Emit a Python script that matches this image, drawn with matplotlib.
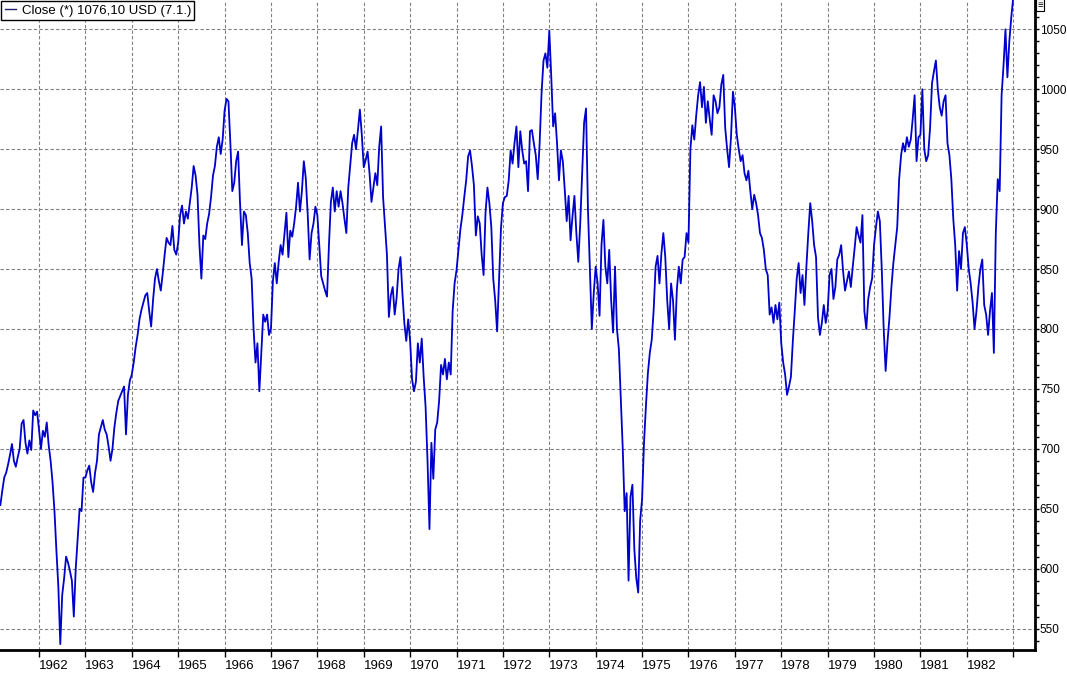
import matplotlib

matplotlib.use("Agg")
import matplotlib.pyplot as plt
import matplotlib.lines as mlines
from matplotlib.ticker import MultipleLocator

plt.rcParams["font.family"] = ["Liberation Sans", "DejaVu Sans"]

# semi-monthly closes (1961 starts in March)
CLOSE_1961 = [653, 665, 676, 680, 687, 695, 704, 690, 685, 693, 700, 721,
              724, 705, 696, 707, 699, 732, 728, 731]
CLOSE_1962 = [716, 700, 715, 710, 722, 703, 690, 672, 648, 615, 585, 537,
              578, 592, 610, 605, 598, 590, 560, 600, 625, 650, 648, 676]
CLOSE_1963 = [676, 682, 686, 672, 664, 680, 690, 712, 718, 724, 716, 712,
              702, 690, 700, 718, 730, 740, 744, 748, 752, 712, 745, 757]
CLOSE_1964 = [762, 772, 785, 795, 808, 816, 822, 828, 830, 815, 802, 824,
              842, 850, 840, 832, 846, 862, 876, 872, 870, 886, 866, 862]
CLOSE_1965 = [872, 895, 903, 888, 898, 892, 905, 918, 936, 928, 912, 870,
              842, 878, 875, 888, 896, 910, 928, 936, 952, 960, 946, 958]
CLOSE_1966 = [982, 992, 990, 955, 915, 922, 940, 948, 905, 870, 898, 895,
              880, 855, 842, 800, 772, 788, 748, 780, 812, 806, 812, 795]
CLOSE_1967 = [800, 840, 855, 838, 856, 870, 862, 880, 897, 860, 882, 877,
              888, 902, 922, 898, 915, 940, 926, 896, 858, 880, 888, 902]
CLOSE_1968 = [895, 870, 844, 838, 832, 827, 870, 906, 918, 898, 915, 902,
              915, 905, 892, 880, 918, 936, 955, 962, 950, 966, 983, 962]
CLOSE_1969 = [935, 941, 948, 930, 906, 918, 930, 920, 952, 969, 910, 886,
              862, 810, 828, 835, 812, 826, 850, 860, 830, 805, 790, 808]
CLOSE_1970 = [790, 758, 748, 756, 788, 772, 792, 760, 735, 690, 633, 705,
              675, 716, 722, 740, 770, 762, 775, 758, 772, 762, 815, 838]
CLOSE_1971 = [849, 866, 883, 895, 910, 924, 944, 949, 936, 920, 878, 894,
              888, 862, 845, 897, 918, 905, 885, 842, 824, 798, 842, 884]
CLOSE_1972 = [905, 910, 911, 924, 949, 938, 955, 969, 935, 965, 949, 938,
              940, 915, 965, 966, 955, 945, 925, 955, 997, 1024, 1030, 1018]
CLOSE_1973 = [1049, 1011, 969, 980, 955, 924, 949, 940, 916, 890, 911, 874,
              894, 911, 880, 856, 888, 930, 972, 984, 900, 850, 800, 830]
CLOSE_1974 = [852, 838, 811, 870, 891, 852, 838, 866, 824, 797, 852, 800,
              783, 742, 700, 648, 663, 590, 660, 670, 616, 592, 580, 640]
CLOSE_1975 = [658, 705, 736, 763, 780, 791, 816, 852, 861, 838, 863, 880,
              860, 824, 800, 838, 824, 791, 833, 852, 838, 858, 860, 880]
CLOSE_1976 = [872, 950, 970, 958, 978, 995, 1006, 985, 1002, 972, 990, 975,
              962, 995, 990, 980, 985, 1004, 1012, 968, 950, 935, 960, 998]
CLOSE_1977 = [985, 962, 950, 940, 945, 930, 924, 932, 915, 900, 912, 905,
              895, 880, 876, 866, 850, 845, 812, 818, 805, 820, 808, 822]
CLOSE_1978 = [788, 772, 762, 745, 752, 760, 790, 815, 842, 855, 830, 845,
              820, 852, 880, 905, 890, 870, 860, 810, 795, 805, 820, 805]
CLOSE_1979 = [815, 845, 850, 825, 835, 858, 862, 870, 848, 832, 840, 848,
              835, 852, 868, 885, 878, 872, 895, 815, 800, 825, 835, 842]
CLOSE_1980 = [870, 885, 898, 890, 850, 800, 765, 790, 810, 835, 855, 870,
              885, 925, 945, 955, 948, 960, 952, 958, 975, 995, 940, 960]
CLOSE_1981 = [962, 1000, 950, 940, 945, 968, 1005, 1015, 1024, 1000, 985, 978,
              990, 995, 955, 945, 925, 892, 870, 832, 865, 850, 880, 885]
CLOSE_1982 = [870, 850, 838, 822, 800, 815, 835, 850, 858, 820, 812, 795,
              815, 830, 780, 880, 925, 915, 995, 1020, 1050, 1010, 1040, 1060]
CLOSE_1983 = [1076.1]

YEARS = list(range(1961, 1984))
SERIES = [CLOSE_1961, CLOSE_1962, CLOSE_1963, CLOSE_1964, CLOSE_1965,
          CLOSE_1966, CLOSE_1967, CLOSE_1968, CLOSE_1969, CLOSE_1970,
          CLOSE_1971, CLOSE_1972, CLOSE_1973, CLOSE_1974, CLOSE_1975,
          CLOSE_1976, CLOSE_1977, CLOSE_1978, CLOSE_1979, CLOSE_1980,
          CLOSE_1981, CLOSE_1982, CLOSE_1983]
FIRST_SLOT = {1961: 4}
Y_TICKS = list(range(550, 1051, 50))
X_TICKS = list(range(1962, 1984))
LEGEND_LABEL = "Close (*) 1076,10 USD (7.1.)"

t, close = [], []
for year, vals in zip(YEARS, SERIES):
    start = FIRST_SLOT.get(year, 0)
    for i, v in enumerate(vals):
        t.append(year + (start + i) / 24)
        close.append(v)

W, H = 1067, 673
fig = plt.figure(figsize=(W / 100, H / 100), dpi=100)
ax = fig.add_axes([0, 23 / H, 1035 / W, 650 / H])

ax.plot(t, close, color="#0000cc", lw=1.3)

ax.set_xlim(1961.159, 1983.47)
ax.set_ylim(532.1, 1074.5)

# axis on the right, dashed grid
ax.yaxis.tick_right()
ax.set_yticks(Y_TICKS)
ax.yaxis.set_minor_locator(MultipleLocator(10))
ax.set_xticks(X_TICKS)
ax.set_xticklabels([str(y) if y < 1983 else "" for y in X_TICKS])
for lab in ax.get_xticklabels():
    lab.set_horizontalalignment("left")
ax.tick_params(axis="x", direction="out", length=5, width=1, pad=2, labelsize=9.5)
ax.tick_params(axis="y", which="major", direction="out", length=3, width=1, pad=0.5, labelsize=8.5)
ax.tick_params(axis="y", which="minor", direction="out", length=3, width=1)
ax.grid(True, which="major", color="#808080", linestyle=(0, (3, 2)), lw=0.8)

for side in ("left", "top"):
    ax.spines[side].set_visible(False)
for side in ("right", "bottom"):
    ax.spines[side].set_linewidth(2)

handle = mlines.Line2D([], [], color="#1a1a6e", lw=1)
leg = ax.legend(
    handles=[handle],
    labels=[LEGEND_LABEL],
    loc="upper left",
    bbox_to_anchor=(0.0, 1.0),
    borderaxespad=0.1,
    fancybox=False,
    framealpha=1,
    edgecolor="black",
    fontsize=9.5,
    handlelength=0.9,
    handletextpad=0.4,
    borderpad=0.25,
)
leg.get_frame().set_linewidth(1)

fig.text(1040 / W, 1 - 5 / H, "\u2261", fontsize=7, ha="center", va="center",
         bbox=dict(boxstyle="square,pad=0.1", fc="white", ec="black", lw=0.8))

fig.savefig("out.png", dpi=100)
